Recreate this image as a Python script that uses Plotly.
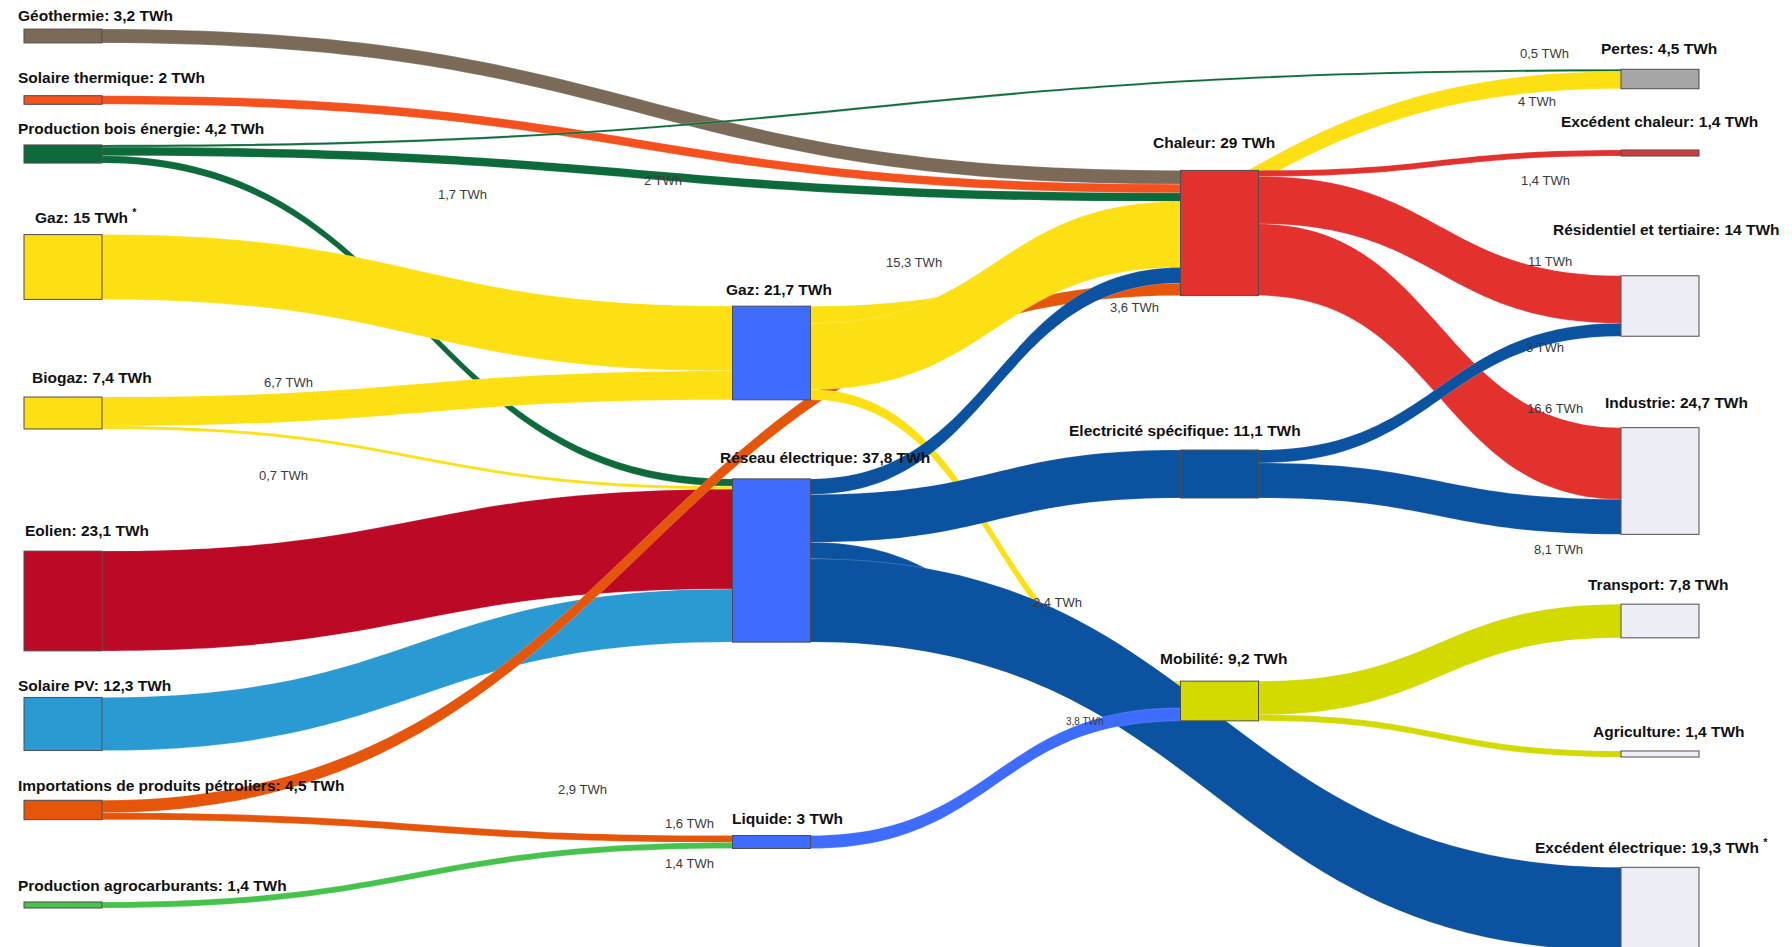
import plotly.graph_objects as go

# ---------------- data ----------------
node_names = [
    "Géothermie", "Solaire thermique", "Production bois énergie", "Gaz", "Biogaz",
    "Eolien", "Solaire PV", "Importations de produits pétroliers", "Production agrocarburants",
    "Gaz", "Réseau électrique", "Liquide",
    "Chaleur", "Electricité spécifique", "Mobilité",
    "Pertes", "Excédent chaleur", "Résidentiel et tertiaire", "Industrie",
    "Transport", "Agriculture", "Excédent électrique",
]
node_totals = [3.2, 2, 4.2, 15, 7.4, 23.1, 12.3, 4.5, 1.4,
               21.7, 37.8, 3,
               29, 11.1, 9.2,
               4.5, 1.4, 14, 24.7, 7.8, 1.4, 19.3]
node_star = [False, False, False, True, False, False, False, False, False,
             False, False, False, False, False, False,
             False, False, False, False, False, False, True]

link_source = [0, 1, 2, 2, 2, 3, 4, 4, 5, 6, 7, 7, 8,
               9, 9, 9, 10, 10, 10, 10, 11,
               12, 12, 12, 13, 13, 14, 14]
link_target = [12, 12, 12, 10, 15, 9, 9, 10, 10, 10, 12, 11, 11,
               15, 12, 14, 12, 13, 14, 21, 14,
               16, 17, 18, 17, 18, 19, 20]
link_value = [3.2, 2, 2, 1.7, 0.5, 15, 6.7, 0.7, 23.1, 12.3, 2.9, 1.6, 1.4,
              4, 15.3, 2.4, 3.6, 11.1, 3.8, 19.3, 3,
              1.4, 11, 16.6, 3, 8.1, 7.8, 1.4]
link_labelled = [False, False, True, True, True, False, True, True, False, False, True, True, True,
                 True, True, True, True, False, True, False, False,
                 True, True, True, True, True, False, False]

# ---------------- layout / style ----------------
W, H = 1792, 947
NODE_THICK = 78
NODE_PAD = 80.3

# node centres in pixels
NODE_CX = [63] * 9 + [771.5] * 3 + [1219.5] * 3 + [1660] * 7
NODE_CY = [36, 100, 154, 267, 413, 601, 724, 810, 905,
           353, 560.5, 842,
           233, 474, 701,
           79, 153, 306, 481, 621, 754, 909]

node_colors = ["#7b6a58", "#f4511e", "#0d6b3b", "#fde013", "#fde013",
               "#bc0a26", "#2a9ad3", "#e5560b", "#46c34b",
               "#3d6cff", "#3d6cff", "#3d6cff",
               "#e3312e", "#0b53a1", "#d2da00",
               "#a6a6a6", "#d13b3b", "#ededf6", "#ededf6",
               "#ededf6", "#ededf6", "#ededf6"]
flow_colors = {0: "#7b6a58", 1: "#f4511e", 2: "#0d6b3b", 3: "#fde013", 4: "#fde013",
               5: "#bc0a26", 6: "#2a9ad3", 7: "#e5560b", 8: "#46c34b",
               9: "#fde013", 10: "#0b53a1", 11: "#3d6cff",
               12: "#e3312e", 13: "#0b53a1", 14: "#d2da00"}
link_colors = [flow_colors[s] for s in link_source]

# label positions in pixels: (x, y, anchor)
NODE_LABEL_POS = [
    (16, 16, "left"), (16, 77, "left"), (16, 129, "left"), (33, 216, "left"),
    (30, 377, "left"), (23, 530, "left"), (16, 685, "left"), (16, 785, "left"),
    (16, 885, "left"),
    (779, 289, "center"), (825, 457, "center"), (787, 818, "center"),
    (1214, 143, "center"), (1185, 431, "center"), (1223, 658, "center"),
    (1659, 49, "center"), (1659, 122, "center"), (1666, 230, "center"),
    (1676, 403, "center"), (1658, 584, "center"), (1669, 731, "center"),
    (1651, 846, "center"),
]
LINK_LABEL_POS = {
    2: (663, 181), 3: (462, 194), 4: (1544, 54), 6: (288, 382), 7: (283, 475),
    10: (582, 789), 11: (689, 823), 12: (689, 863), 13: (1537, 101),
    14: (914, 262), 15: (1057, 602), 16: (1134, 307), 18: (1085, 721),
    21: (1545, 181), 22: (1550, 261), 23: (1555, 408), 24: (1545, 347),
    25: (1558, 549),
}
SMALL_LINK_LABELS = {18}

FONT = "Liberation Sans, Arial, sans-serif"


def fmt(v):
    return f"{v:g}".replace(".", ",")


full_names = [f"{n}: {fmt(v)} TWh" for n, v in zip(node_names, node_totals)]

fig = go.Figure(go.Sankey(
    arrangement="fixed",
    domain=dict(x=[0, 1], y=[0, 1]),
    node=dict(
        label=[""] * len(node_names),
        customdata=full_names,
        x=[cx / W for cx in NODE_CX],
        y=[cy / H for cy in NODE_CY],
        pad=NODE_PAD,
        thickness=NODE_THICK,
        color=node_colors,
        line=dict(color="#4d4d4d", width=1),
        hovertemplate="%{customdata}<extra></extra>",
    ),
    link=dict(
        source=link_source,
        target=link_target,
        value=link_value,
        color=link_colors,
        line=dict(color="rgba(255,255,255,0.35)", width=0.5),
        hovertemplate="%{value} TWh<extra></extra>",
    ),
))

annotations = []
for i, name in enumerate(full_names):
    px, py, anchor = NODE_LABEL_POS[i]
    txt = f"<b>{name}</b>"
    if node_star[i]:
        txt += " <sup><b>*</b></sup>"
    annotations.append(dict(
        x=px / W, y=1 - py / H, xref="paper", yref="paper",
        text=txt, showarrow=False, xanchor=anchor, yanchor="middle",
        font=dict(family=FONT, size=15.5, color="#111111"),
    ))
for i, v in enumerate(link_value):
    if not link_labelled[i]:
        continue
    px, py = LINK_LABEL_POS[i]
    annotations.append(dict(
        x=px / W, y=1 - py / H, xref="paper", yref="paper",
        text=f"{fmt(v)} TWh", showarrow=False, xanchor="center", yanchor="middle",
        font=dict(family=FONT, size=10 if i in SMALL_LINK_LABELS else 13, color="#3a3a3a"),
    ))

fig.update_layout(
    width=W, height=H,
    margin=dict(l=0, r=0, t=0, b=0),
    paper_bgcolor="white", plot_bgcolor="white",
    annotations=annotations,
    font=dict(family=FONT),
)

fig.write_html(
    "out.html",
    config={"displayModeBar": False},
    post_script="document.body.style.margin='0';document.body.style.overflow='hidden';",
)
